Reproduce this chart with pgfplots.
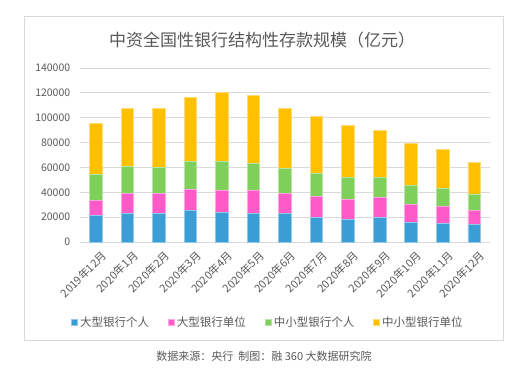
\documentclass[border=0pt]{standalone}
\usepackage{fontspec}
\setmainfont{Noto Sans CJK SC}
\usepackage{pgfplots}
\pgfplotsset{compat=1.18}
\definecolor{cA}{HTML}{3A9DD5}
\definecolor{cB}{HTML}{FF5BC8}
\definecolor{cC}{HTML}{7ED05A}
\definecolor{cD}{HTML}{FFC000}
\definecolor{txt}{HTML}{595959}
\definecolor{grd}{HTML}{D9D9D9}
\begin{document}
\begin{tikzpicture}
\useasboundingbox (0,0) rectangle (529bp,372bp);
\draw[grd, line width=0.8bp] (24bp,32bp) rectangle (503bp,356bp);
\node[txt, font=\fontsize{17bp}{20bp}\selectfont] at (262bp,332bp) {中资全国性银行结构性存款规模（亿元）};
\begin{axis}[
  at={(80bp,130bp)}, anchor=south west,
  scale only axis, width=410bp, height=174bp,
  ybar stacked, bar width=12.6bp,
  xmin=-0.5, xmax=12.5, ymin=0, ymax=140000,
  ytick={0,20000,40000,60000,80000,100000,120000,140000},
  yticklabels={0,20000,40000,60000,80000,100000,120000,140000},
  scaled y ticks=false,
  xtick={0,...,12},
  xticklabels={2019年12月,2020年1月,2020年2月,2020年3月,2020年4月,2020年5月,2020年6月,2020年7月,2020年8月,2020年9月,2020年10月,2020年11月,2020年12月},
  minor xtick={-0.5,0.5,...,12.5},
  xtick style={draw=none},
  minor tick length=4bp,
  tick align=outside,
  minor x tick style={grd, line width=0.8bp},
  ytick style={draw=none},
  ymajorgrids, grid style={grd, line width=0.8bp},
  axis x line*=bottom, axis y line*=left,
  x axis line style={grd, line width=0.8bp, -},
  y axis line style={draw=none},
  xticklabel style={rotate=45, anchor=north east, inner sep=1pt, yshift=-5bp, xshift=2bp, font=\fontsize{11bp}{12bp}\selectfont, text=txt},
  yticklabel style={font=\fontsize{10.5bp}{12bp}\selectfont, text=txt, xshift=-2bp},
  legend columns=4,
  legend style={at={(0.4585,-0.46)}, anchor=center, draw=none, fill=none,
    font=\fontsize{11.5bp}{14bp}\selectfont, text=txt,
    /tikz/every even column/.append style={column sep=17bp}},
  legend image code/.code={\fill[#1] (0bp,-3bp) rectangle (6bp,3bp);},
]
\addplot[fill=cA, draw=cA!55!white, line width=0.8bp] coordinates {(0,21000) (1,22610) (2,22610) (3,25040) (4,23960) (5,23150) (6,22610) (7,20000) (8,18380) (9,19460) (10,15410) (11,14600) (12,14050)};
\addplot[fill=cB, draw=cB!55!white, line width=0.8bp] coordinates {(0,12380) (1,16430) (2,16160) (3,16960) (4,17770) (5,18580) (6,16700) (7,16760) (8,15670) (9,16220) (10,14590) (11,14320) (12,11630)};
\addplot[fill=cC, draw=cC!55!white, line width=0.8bp] coordinates {(0,20730) (1,21530) (2,21000) (3,22610) (4,22880) (5,21810) (6,20190) (7,18380) (8,17840) (9,16210) (10,15410) (11,14050) (12,12970)};
\addplot[fill=cD, draw=cD!55!white, line width=0.8bp] coordinates {(0,41460) (1,46580) (2,47920) (3,51420) (4,56000) (5,54110) (6,47920) (7,46210) (8,42160) (9,37840) (10,34050) (11,31350) (12,25670)};
\legend{大型银行个人,大型银行单位,中小型银行个人,中小型银行单位}
\end{axis}
\node[txt, font=\fontsize{11bp}{13bp}\selectfont] at (264bp,16bp) {数据来源：央行\ \ 制图：融 360 大数据研究院};
\end{tikzpicture}
\end{document}
